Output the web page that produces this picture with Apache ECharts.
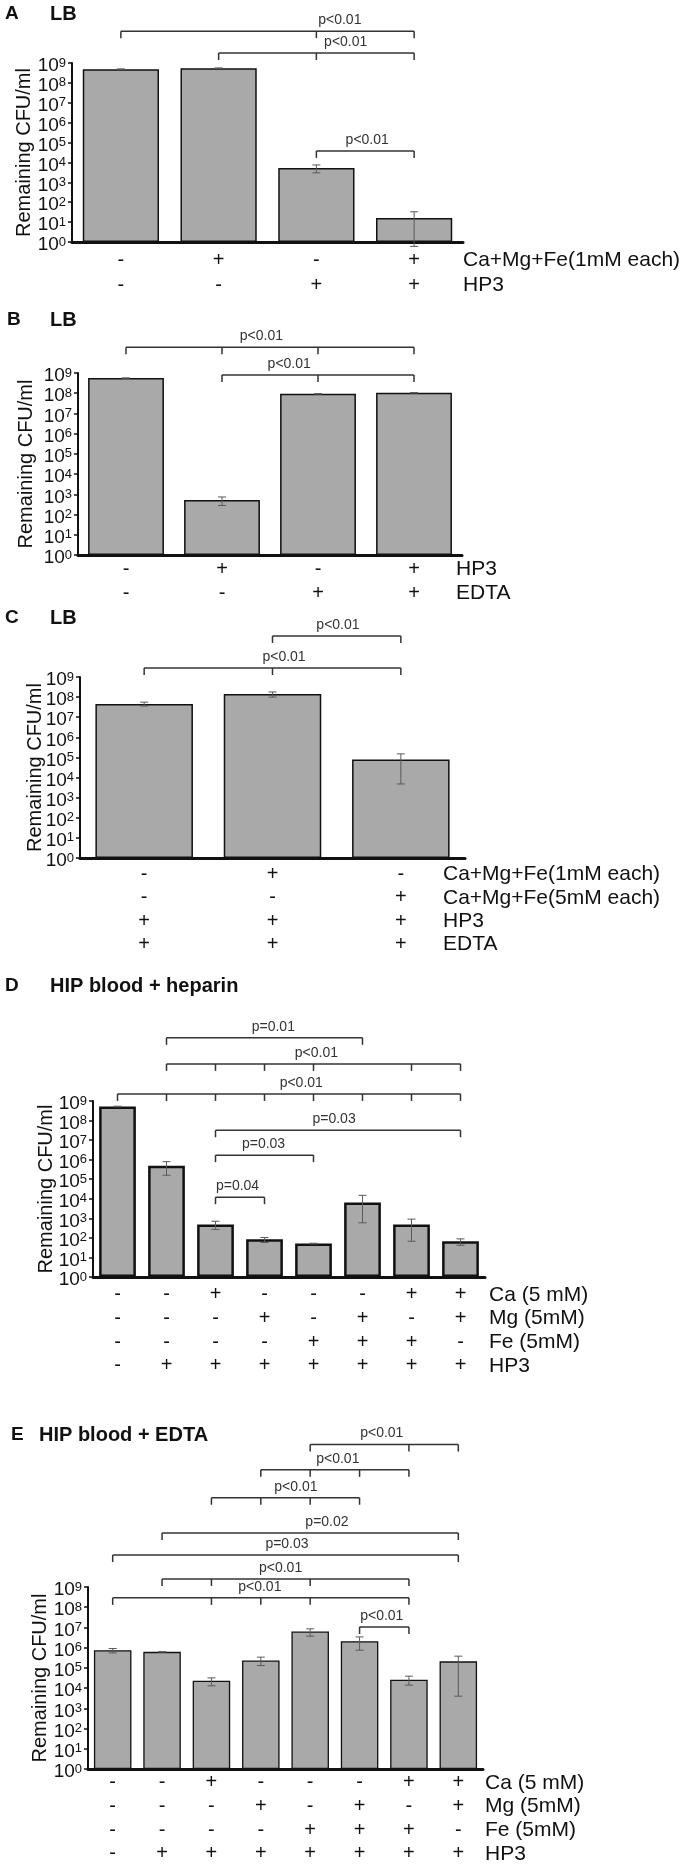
<!DOCTYPE html>
<html><head><meta charset="utf-8">
<script src="https://cdn.jsdelivr.net/npm/echarts@6/dist/echarts.min.js"></script>
<style>html,body{margin:0;padding:0;background:#fff}#c{width:685px;height:1866px}</style>
</head><body><div id="c"></div>
<script>
// ================= DATA =================
const yAxisTitle = 'Remaining CFU/ml';

// Panel A
const aLetter = 'A';
const aTitle = 'LB';
const aRowNames = ['Ca+Mg+Fe(1mM each)', 'HP3'];
const aRowSigns = [['-', '+', '-', '+'], ['-', '-', '+', '+']];
const aValues = [4.9e8, 5.5e8, 5200, 16];
const aErrLow = [4.75e8, 5.35e8, 3000, 0.6];
const aErrHigh = [5.05e8, 5.65e8, 7500, 33];
const aBrackets = [
  { from: 0, to: 3, ticks: [2], level: 4e10, label: 'p<0.01', labelAt: 2.24 },
  { from: 1, to: 3, ticks: [2], level: 3.2e9, label: 'p<0.01', labelAt: 2.30 },
  { from: 2, to: 3, ticks: [], level: 3.8e4, label: 'p<0.01', labelAt: 2.52 }
];

// Panel B
const bLetter = 'B';
const bTitle = 'LB';
const bRowNames = ['HP3', 'EDTA'];
const bRowSigns = [['-', '+', '-', '+'], ['-', '-', '+', '+']];
const bValues = [5.6e8, 520, 9.3e7, 1.05e8];
const bErrLow = [5.45e8, 280, 9.1e7, 1.03e8];
const bErrHigh = [5.75e8, 740, 9.5e7, 1.07e8];
const bBrackets = [
  { from: 0, to: 3, ticks: [1, 2], level: 1.9e10, label: 'p<0.01', labelAt: 1.41 },
  { from: 1, to: 3, ticks: [2], level: 8e8, label: 'p<0.01', labelAt: 1.70 }
];

// Panel C
const cLetter = 'C';
const cTitle = 'LB';
const cRowNames = ['Ca+Mg+Fe(1mM each)', 'Ca+Mg+Fe(5mM each)', 'HP3', 'EDTA'];
const cRowSigns = [['-', '+', '-'], ['-', '-', '+'], ['+', '+', '+'], ['+', '+', '+']];
const cValues = [4.5e7, 1.44e8, 7.8e4];
const cErrLow = [3.6e7, 1.0e8, 4.8e3];
const cErrHigh = [5.6e7, 1.8e8, 1.5e5];
const cBrackets = [
  { from: 1, to: 2, ticks: [], level: 1.1e11, label: 'p<0.01', labelAt: 1.51 },
  { from: 0, to: 2, ticks: [1], level: 2.8e9, label: 'p<0.01', labelAt: 1.09 }
];

// Panel D
const dLetter = 'D';
const dTitle = 'HIP blood + heparin';
const dRowNames = ['Ca (5 mM)', 'Mg (5mM)', 'Fe (5mM)', 'HP3'];
const dRowSigns = [
  ['-', '-', '+', '-', '-', '-', '+', '+'],
  ['-', '-', '-', '+', '-', '+', '-', '+'],
  ['-', '-', '-', '-', '+', '+', '+', '-'],
  ['-', '+', '+', '+', '+', '+', '+', '+']
];
const dValues = [5.2e8, 4.9e5, 480, 85, 51, 6500, 480, 67];
const dErrLow = [5.0e8, 1.6e5, 270, 58, 49, 590, 67, 42];
const dErrHigh = [5.4e8, 7.9e5, 710, 105, 53, 1.5e4, 910, 89];
const dBrackets = [
  { from: 1, to: 5, ticks: [], level: 1.7e12, label: 'p=0.01', labelAt: 3.18 },
  { from: 1, to: 7, ticks: [2, 3, 4, 6], level: 7.9e10, label: 'p<0.01', labelAt: 4.06 },
  { from: 0, to: 7, ticks: [1, 2, 3, 4, 5, 6], level: 2.3e9, label: 'p<0.01', labelAt: 3.75 },
  { from: 2, to: 7, ticks: [], level: 3.2e7, label: 'p=0.03', labelAt: 4.42 },
  { from: 2, to: 4, ticks: [], level: 1.7e6, label: 'p=0.03', labelAt: 2.98 },
  { from: 2, to: 3, ticks: [], level: 1.2e4, label: 'p=0.04', labelAt: 2.45 }
];

// Panel E
const eLetter = 'E';
const eTitle = 'HIP blood + EDTA';
const eRowNames = ['Ca (5 mM)', 'Mg (5mM)', 'Fe (5mM)', 'HP3'];
const eRowSigns = [
  ['-', '-', '+', '-', '-', '-', '+', '+'],
  ['-', '-', '-', '+', '-', '+', '-', '+'],
  ['-', '-', '-', '-', '+', '+', '+', '-'],
  ['-', '+', '+', '+', '+', '+', '+', '+']
];
const eValues = [7.5e5, 6.2e5, 2.3e4, 2.3e5, 6.3e6, 2.1e6, 2.6e4, 2.1e5];
const eErrLow = [5.5e5, 6.0e5, 1.3e4, 1.3e5, 3.7e6, 7.5e5, 1.4e4, 4e3];
const eErrHigh = [9.1e5, 6.4e5, 3.2e4, 3.4e5, 8.5e6, 3.4e6, 3.9e4, 3.8e5];
const eBrackets = [
  { from: 4, to: 7, ticks: [6], level: 1.1e16, label: 'p<0.01', labelAt: 5.45 },
  { from: 3, to: 6, ticks: [4, 5], level: 6.2e14, label: 'p<0.01', labelAt: 4.56 },
  { from: 2, to: 5, ticks: [3, 4], level: 2.6e13, label: 'p<0.01', labelAt: 3.71 },
  { from: 1, to: 7, ticks: [], level: 4.7e11, label: 'p=0.02', labelAt: 4.34 },
  { from: 0, to: 7, ticks: [], level: 3.8e10, label: 'p=0.03', labelAt: 3.53 },
  { from: 1, to: 6, ticks: [2, 4], level: 2.5e9, label: 'p<0.01', labelAt: 3.40 },
  { from: 0, to: 6, ticks: [2, 3, 4], level: 2.9e8, label: 'p<0.01', labelAt: 2.98 },
  { from: 5, to: 6, ticks: [], level: 1.05e7, label: 'p<0.01', labelAt: 5.45 }
];

// ================= LAYOUT / STYLE =================
const FONT = "'Liberation Sans', Arial, Helvetica, sans-serif";
const panels = [
  { letter: aLetter, title: aTitle, rowNames: aRowNames, rowSigns: aRowSigns, values: aValues, low: aErrLow, high: aErrHigh, brackets: aBrackets,
    g: { left: 72, top: 63, width: 391, height: 179 }, lm: 5.5, lh: 25, rowX: 463, gap: '22%', bw: 1.5, nameGap: 38, letterX: 5, titleX: 50, titleY: 14 },
  { letter: bLetter, title: bTitle, rowNames: bRowNames, rowSigns: bRowSigns, values: bValues, low: bErrLow, high: bErrHigh, brackets: bBrackets,
    g: { left: 78, top: 373, width: 384, height: 182 }, lm: 2, lh: 24, rowX: 456, gap: '21%', bw: 1.5, nameGap: 42, letterX: 7, titleX: 50, titleY: 320 },
  { letter: cLetter, title: cTitle, rowNames: cRowNames, rowSigns: cRowSigns, values: cValues, low: cErrLow, high: cErrHigh, brackets: cBrackets,
    g: { left: 80, top: 677, width: 385, height: 181 }, lm: 5, lh: 23.3, rowX: 443, gap: '24%', bw: 1.5, nameGap: 35, letterX: 5, titleX: 50, titleY: 618 },
  { letter: dLetter, title: dTitle, rowNames: dRowNames, rowSigns: dRowSigns, values: dValues, low: dErrLow, high: dErrHigh, brackets: dBrackets,
    g: { left: 93, top: 1101, width: 392, height: 176 }, lm: 6, lh: 23.7, rowX: 489, gap: '25%', bw: 2.5, nameGap: 37, letterX: 5, titleX: 50, titleY: 986 },
  { letter: eLetter, title: eTitle, rowNames: eRowNames, rowSigns: eRowSigns, values: eValues, low: eErrLow, high: eErrHigh, brackets: eBrackets,
    g: { left: 88, top: 1587, width: 395, height: 182 }, lm: 2, lh: 23.7, rowX: 485, gap: '24%', bw: 1.3, nameGap: 38, letterX: 11, titleX: 39, titleY: 1435 }
];

const grids = [], xAxes = [], yAxes = [], series = [], graphics = [];

function errorBarSeries(gi, low, high) {
  return {
    type: 'custom', xAxisIndex: gi, yAxisIndex: gi, z: 5, clip: false, silent: true,
    data: low.map((l, i) => [i, l, high[i]]),
    renderItem: (p, api) => {
      const x = api.value(0);
      const lo = api.coord([x, api.value(1)]);
      const hi = api.coord([x, api.value(2)]);
      const w = 4, st = { stroke: '#5a5a5a', lineWidth: 1 };
      return { type: 'group', children: [
        { type: 'line', shape: { x1: lo[0], y1: lo[1], x2: hi[0], y2: hi[1] }, style: st },
        { type: 'line', shape: { x1: lo[0] - w, y1: lo[1], x2: lo[0] + w, y2: lo[1] }, style: st },
        { type: 'line', shape: { x1: hi[0] - w, y1: hi[1], x2: hi[0] + w, y2: hi[1] }, style: st }
      ]};
    }
  };
}

function bracketSeries(gi, list) {
  return {
    type: 'custom', xAxisIndex: gi, yAxisIndex: gi, z: 6, clip: false, silent: true,
    data: list.map(b => [b.from, b.level]),
    renderItem: (p, api) => {
      const b = list[p.dataIndex];
      const at = (idx) => {
        const f = Math.floor(idx), t = idx - f;
        const p0 = api.coord([f, b.level]);
        if (t === 0) return p0;
        const p1 = api.coord([f + 1, b.level]);
        return [p0[0] + t * (p1[0] - p0[0]), p0[1]];
      };
      const a = at(b.from), z = at(b.to);
      const y = a[1];
      const st = { stroke: '#333', lineWidth: 1.5 };
      const ch = [{ type: 'line', shape: { x1: a[0], y1: y, x2: z[0], y2: y }, style: st }];
      [b.from].concat(b.ticks, [b.to]).forEach(t => {
        const x = at(t)[0];
        ch.push({ type: 'line', shape: { x1: x, y1: y, x2: x, y2: y + 7 }, style: st });
      });
      ch.push({ type: 'text', x: at(b.labelAt)[0], y: y - 11,
        style: { text: b.label, fill: '#333', fontSize: 14, fontFamily: FONT, align: 'center', verticalAlign: 'middle' } });
      return { type: 'group', children: ch };
    }
  };
}

panels.forEach((P, i) => {
  grids.push(Object.assign({ containLabel: false, outerBoundsMode: 'none' }, P.g));
  const signs = P.rowSigns;
  xAxes.push({
    type: 'category', gridIndex: i, data: P.values.map((_, k) => 'c' + k),
    axisLine: { show: true, lineStyle: { color: '#111', width: 3 } },
    axisTick: { show: false },
    axisLabel: { interval: 0, margin: P.lm, lineHeight: P.lh, fontSize: 20, fontFamily: FONT, color: '#111',
      formatter: (v, idx) => signs.map(r => r[idx]).join('\n') },
    splitLine: { show: false }
  });
  yAxes.push({
    type: 'log', logBase: 10, gridIndex: i, min: 1, max: 1e9, splitNumber: 9,
    name: yAxisTitle, nameLocation: 'middle', nameGap: P.nameGap, nameMoveOverlap: false,
    nameTextStyle: { fontSize: 20, fontFamily: FONT, color: '#111' },
    axisLine: { show: true, lineStyle: { color: '#111', width: 2 } },
    axisTick: { show: true, inside: false, length: 4, lineStyle: { color: '#111', width: 1.5 } },
    splitLine: { show: false },
    axisLabel: {
      margin: 6, padding: [6, 0, 0, 0], color: '#111', fontFamily: FONT,
      formatter: v => '{b|10}{s|' + Math.round(Math.log10(v)) + '}',
      rich: { b: { fontSize: 19, fontFamily: FONT, color: '#111' },
              s: { fontSize: 13, fontFamily: FONT, color: '#111', verticalAlign: 'top' } }
    }
  });
  series.push({
    type: 'bar', xAxisIndex: i, yAxisIndex: i, data: P.values, barCategoryGap: P.gap, z: 2,
    itemStyle: { color: '#a9a9a9', borderColor: '#111', borderWidth: P.bw }
  });
  series.push(errorBarSeries(i, P.low, P.high));
  series.push(bracketSeries(i, P.brackets));

  // panel letter + title
  graphics.push({ type: 'text', x: P.letterX, y: P.titleY,
    style: { text: P.letter, fontSize: 19, fontWeight: 'bold', fontFamily: FONT, fill: '#111', verticalAlign: 'middle' } });
  graphics.push({ type: 'text', x: P.titleX, y: P.titleY,
    style: { text: P.title, fontSize: 20, fontWeight: 'bold', fontFamily: FONT, fill: '#111', verticalAlign: 'middle' } });
  // row names (aligned with the x-axis label rows)
  const base = P.g.top + P.g.height;
  P.rowNames.forEach((name, k) => {
    graphics.push({ type: 'text', x: P.rowX, y: base + P.lm + P.lh * (k + 0.5),
      style: { text: name, fontSize: 21, fontFamily: FONT, fill: '#111', verticalAlign: 'middle' } });
  });
});

const chart = echarts.init(document.getElementById('c'), null, { renderer: 'canvas', width: 685, height: 1866 });
chart.setOption({
  backgroundColor: '#ffffff',
  animation: false,
  grid: grids, xAxis: xAxes, yAxis: yAxes, series: series, graphic: graphics
});
</script></body></html>
